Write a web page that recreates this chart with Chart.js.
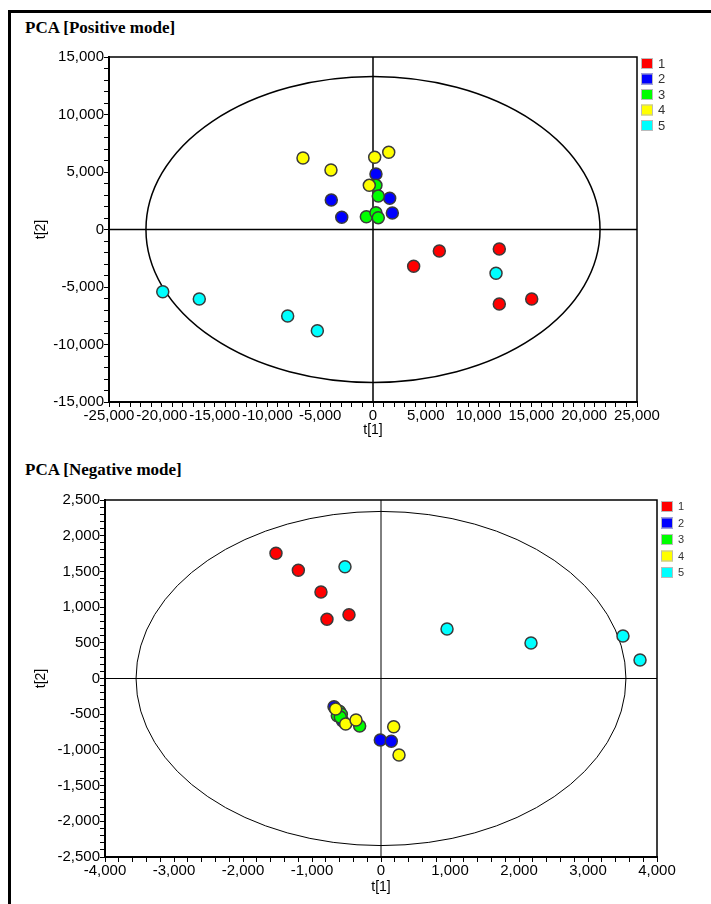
<!DOCTYPE html>
<html>
<head>
<meta charset="utf-8">
<script src="https://cdn.jsdelivr.net/npm/chart.js@4.4.1/dist/chart.umd.min.js"></script>
<style>
  body { margin: 0; background: #fff; width: 711px; height: 904px; overflow: hidden; position: relative; }
  .frame { position: absolute; left: 8px; top: 10px; width: 720px; height: 920px; border-left: 3px solid #000; border-top: 3px solid #000; }
  .ttl { position: absolute; left: 25px; font: bold 17px "Liberation Serif", "DejaVu Serif", serif; color: #000; }
  canvas { position: absolute; left: 0; }
</style>
</head>
<body>
<div class="frame"></div>
<div class="ttl" style="top:18px">PCA [Positive mode]</div>
<div class="ttl" style="top:460px">PCA [Negative mode]</div>
<canvas id="posChart" style="top:0" width="711" height="440"></canvas>
<canvas id="negChart" style="top:440px" width="711" height="464"></canvas>
<script>
// group labels and colours
const groups = ['1', '2', '3', '4', '5'];
const groupColors = ['#ff0000', '#0000ff', '#00ff00', '#ffff00', '#00ffff'];

// positive mode scores [t1, t2]
const posG1 = [[3850, -3200], [6280, -1870], [11960, -1700], [11960, -6480], [15030, -6040]];
const posG2 = [[280, 4830], [1580, 2710], [-3950, 2565], [-2960, 1060], [1830, 1430]];
const posG3 = [[280, 3840], [500, 2910], [-630, 1110], [280, 1460], [500, 1030]];
const posG4 = [[-6630, 6220], [-3980, 5170], [160, 6280], [1490, 6710], [-350, 3840]];
const posG5 = [[-19910, -5410], [-16450, -6040], [-8080, -7520], [-5270, -8800], [11650, -3810]];

// negative mode scores [t1, t2]
const negG1 = [[-1522, 1753], [-1198, 1515], [-870, 1211], [-783, 829], [-464, 894]];
const negG2 = [[-681, -395], [-10, -861], [149, -880], [-600, -470], [-560, -590]];
const negG3 = [[-604, -459], [-633, -521], [-309, -665], [-575, -500], [-590, -540]];
const negG4 = [[-657, -427], [-512, -637], [-362, -581], [184, -675], [261, -1071]];
const negG5 = [[-522, 1566], [957, 694], [2174, 497], [3507, 595], [3754, 259]];

// Hotelling T2 ellipse radii [t1, t2]
const posEllipse = [21500, 13300];
const negEllipse = [3550, 2340];

// axis ranges [min, max, major step, minor step]
const posX = [-25000, 25000, 5000, 1000];
const posY = [-15000, 15000, 5000, 1000];
const negX = [-4000, 4000, 1000, 200];
const negY = [-2500, 2500, 500, 100];

const fmt = v => v.toLocaleString('en-US');

// ellipse, zero lines, plot frame and legend
const pcaDecor = {
    id: 'pcaDecor',
    beforeDatasetsDraw(chart, args, opts) {
        const ctx = chart.ctx, a = chart.chartArea;
        const x = chart.scales.x, y = chart.scales.y;
        const cx = x.getPixelForValue(0), cy = y.getPixelForValue(0);
        ctx.save();
        ctx.strokeStyle = '#000';
        ctx.lineWidth = opts.lineWidth;
        ctx.beginPath();
        ctx.moveTo(a.left, cy); ctx.lineTo(a.right, cy);
        ctx.moveTo(cx, a.top); ctx.lineTo(cx, a.bottom);
        ctx.stroke();
        ctx.beginPath();
        ctx.ellipse(cx, cy,
            Math.abs(x.getPixelForValue(opts.ellipse[0]) - cx),
            Math.abs(y.getPixelForValue(opts.ellipse[1]) - cy),
            0, 0, Math.PI * 2);
        ctx.stroke();
        ctx.lineWidth = 1.5;
        ctx.strokeRect(a.left, a.top, a.width, a.height);
        ctx.restore();
    },
    afterDraw(chart, args, opts) {
        const ctx = chart.ctx, a = chart.chartArea;
        ctx.save();
        ctx.font = opts.fontSize + 'px "Liberation Sans", Arial, sans-serif';
        ctx.textBaseline = 'middle';
        chart.data.datasets.forEach((ds, i) => {
            const top = a.top + 1 + i * opts.step;
            ctx.fillStyle = ds.backgroundColor;
            ctx.fillRect(a.right + 4, top, 12, 11);
            ctx.strokeStyle = '#bbb';
            ctx.lineWidth = 1;
            ctx.strokeRect(a.right + 4.5, top + 0.5, 11, 10);
            ctx.fillStyle = '#333';
            ctx.fillText(ds.label, a.right + 21, top + 6);
        });
        ctx.restore();
    }
};

function makeDatasets(series){
    return series.map((pts, i) => ({
        label: groups[i],
        data: pts.map(p => ({x: p[0], y: p[1]})),
        backgroundColor: groupColors[i],
        borderColor: '#3a3a3a',
        borderWidth: 1.5,
        pointRadius: 6,
        order: series.length - i
    }));
}

function makeScale(range, title, fontSize, fixedSize, horizontal){
    return {
        type: 'linear',
        min: range[0],
        max: range[1],
        afterFit(scale){
            if(horizontal){ scale.height = fixedSize; } else { scale.width = fixedSize; }
        },
        afterBuildTicks(scale){
            let ticks = [];
            for(let v = range[0]; v <= range[1]; v += range[3]){
                ticks.push({value: v});
            }
            scale.ticks = ticks;
        },
        ticks: {
            autoSkip: false,
            maxRotation: 0,
            padding: 0,
            color: '#000',
            font: {family: '"Liberation Sans", Arial, sans-serif', size: fontSize},
            callback: v => (v % range[2] === 0 ? fmt(v) : '')
        },
        grid: {
            drawOnChartArea: false,
            drawTicks: true,
            tickLength: 5,
            tickColor: '#000',
            tickWidth: 1
        },
        border: {display: true, color: '#000', width: 2},
        title: {
            display: true,
            text: title,
            color: '#000',
            padding: {top: 0, bottom: 0},
            font: {family: '"Liberation Sans", Arial, sans-serif', size: fontSize - 1}
        }
    };
}

function makeChart(id, series, xr, yr, ellipse, opts){
    return new Chart(document.getElementById(id), {
        type: 'scatter',
        data: {datasets: makeDatasets(series)},
        options: {
            responsive: false,
            animation: false,
            layout: {padding: opts.padding},
            plugins: {
                legend: {display: false},
                tooltip: {enabled: false},
                pcaDecor: {ellipse: ellipse, lineWidth: opts.lineWidth, step: opts.legendStep, fontSize: opts.legendFont}
            },
            scales: {
                x: makeScale(xr, 't[1]', opts.tickFont, opts.xHeight, true),
                y: makeScale(yr, 't[2]', opts.tickFont, opts.yWidth, false)
            }
        },
        plugins: [pcaDecor]
    });
}

window.onload = function(){
    makeChart('posChart', [posG1, posG2, posG3, posG4, posG5], posX, posY, posEllipse, {
        padding: {left: 33, top: 57, right: 74, bottom: 1},
        xHeight: 37, yWidth: 76, tickFont: 15, lineWidth: 1.5, legendStep: 15.5, legendFont: 13
    });
    makeChart('negChart', [negG1, negG2, negG3, negG4, negG5], negX, negY, negEllipse, {
        padding: {left: 33, top: 60, right: 54, bottom: 8},
        xHeight: 39, yWidth: 72, tickFont: 15, lineWidth: 1, legendStep: 16.5, legendFont: 11
    });
};
</script>
</body>
</html>
